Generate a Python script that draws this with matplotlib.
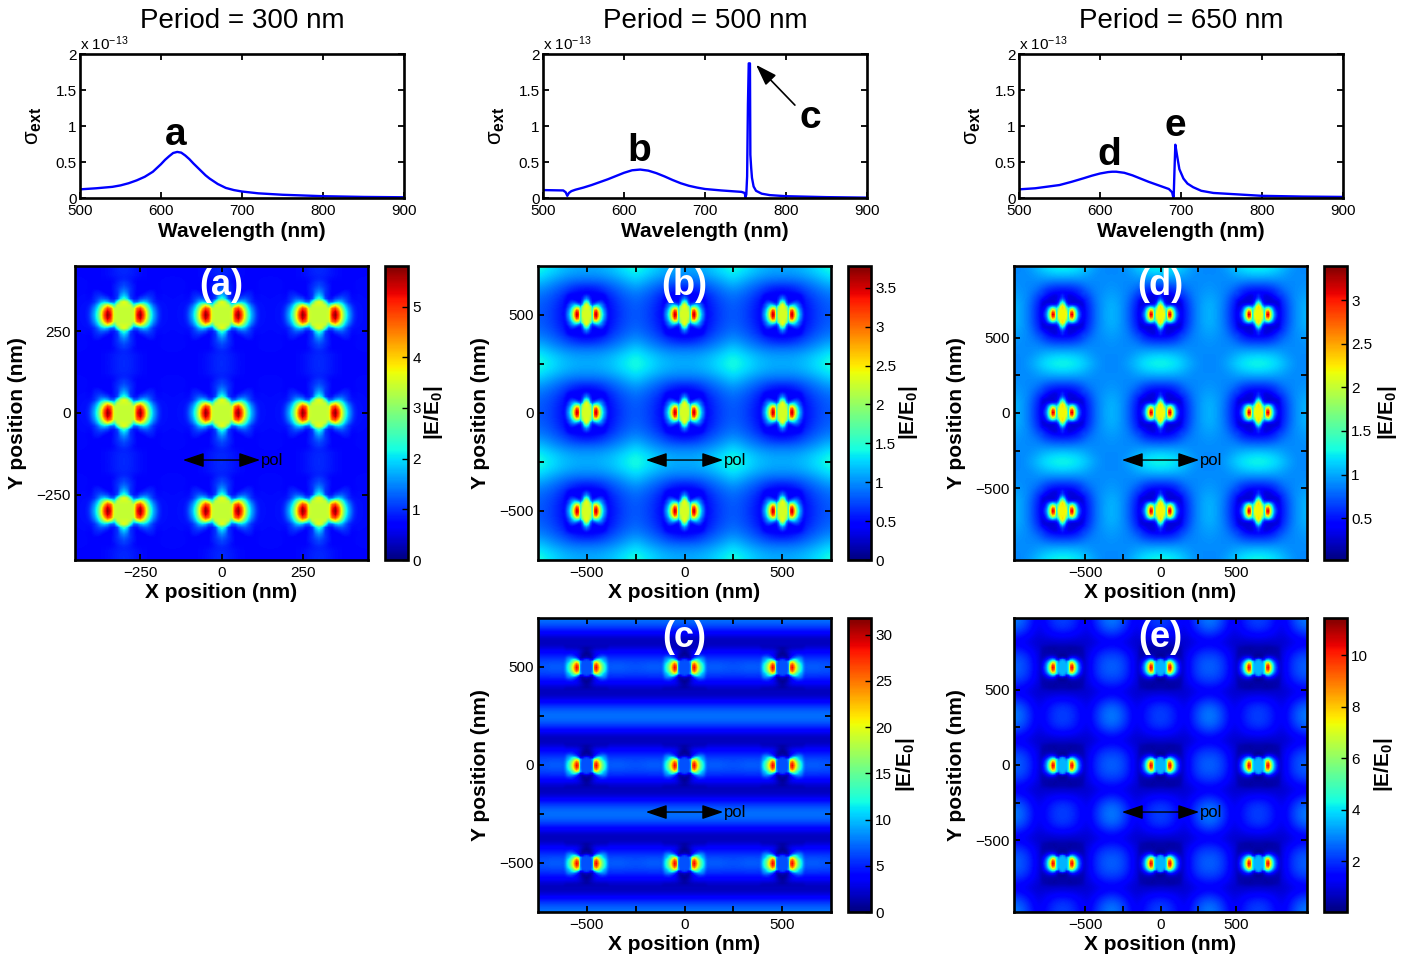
import numpy as np
import matplotlib
matplotlib.use('Agg')
import matplotlib.pyplot as plt

plt.rcParams['font.family'] = ['Liberation Sans', 'DejaVu Sans']
plt.rcParams['mathtext.fontset'] = 'custom'
plt.rcParams['mathtext.rm'] = 'Liberation Sans'
plt.rcParams['mathtext.it'] = 'Liberation Sans'
plt.rcParams['mathtext.bf'] = 'Liberation Sans:bold'

# --- SPECTRA (sigma_ext in units of 1e-13) ---
WL_300 = [500, 520, 540, 550, 560, 570, 580, 590, 600, 605, 610, 615, 620, 625, 630, 635, 640, 645, 650, 655, 660,
          670, 680, 690, 700, 720, 750, 800, 850, 900]
EXT_300 = [.12, .135, .155, .175, .205, .245, .295, .365, .47, .53, .58, .625, .64, .63, .59, .54, .48, .425, .37, .315,
           .27, .195, .14, .11, .09, .065, .045, .025, .015, .01]

WL_500 = [500, 525, 528, 530, 532, 535, 540, 550, 560, 570, 580, 590, 600, 610, 620, 630, 640, 650, 660, 670, 680, 690,
          700, 720, 745, 749, 750, 751, 752, 753, 754, 755.5, 756, 757, 758, 760, 763, 770, 780, 800, 850, 900]
EXT_500 = [.11, .105, .08, .03, .07, .095, .115, .145, .18, .22, .26, .305, .35, .385, .395, .38, .345, .3, .25, .205,
           .17, .145, .125, .105, .085, .07, .01, .05, .3, 1.3, 1.87, 1.87, .6, .42, .28, .16, .1, .06, .04, .025, .012, .005]

WL_650 = [500, 520, 550, 565, 580, 590, 600, 610, 615, 620, 630, 640, 650, 660, 670, 685, 689, 690.5, 691, 692, 693,
          695, 698, 703, 708, 715, 725, 740, 770, 800, 850, 900]
EXT_650 = [.12, .135, .18, .225, .275, .31, .34, .36, .365, .365, .35, .315, .27, .225, .185, .125, .08, .01, .03, .4,
           .74, .6, .4, .27, .2, .15, .1, .07, .05, .03, .02, .015]

# --- FIELD MAPS: one quarter of a unit cell, rows go away from the particle row ---
# FAR_* nodes are period/12 apart, NEAR_* are the close-up round a particle
FAR_A = [[.9, .88, .86, .86, .86, .8, .78],
         [.88, .86, .86, .86, .84, .8, .78],
         [.8, .8, .8, .8, .78, .78, .76],
         [.8, .78, .76, .76, .76, .76, .76],
         [.86, .82, .76, .74, .74, .76, .76],
         [.98, .9, .78, .74, .72, .74, .74],
         [.98, .9, .78, .74, .72, .72, .72]]
NEAR_A = [[3.4, 3.4, 3.4, 3.5, 5.2, 5.7, 4.9, 3.6, 2.5, 1.75, 1.3, 1.05, .92],
          [3.4, 3.4, 3.4, 3.5, 5.0, 5.5, 4.7, 3.5, 2.4, 1.7, 1.25, 1.02, .9],
          [3.4, 3.4, 3.4, 3.4, 4.6, 4.9, 4.1, 3.1, 2.15, 1.55, 1.15, .95, .85],
          [3.5, 3.5, 3.4, 2.4, 3.2, 3.7, 3.2, 2.5, 1.8, 1.3, 1.0, .88, .8],
          [3.7, 3.4, 2.4, 1.3, 1.3, 1.7, 1.9, 1.7, 1.3, 1.0, .85, .8, .78],
          [2.4, 2.0, 1.15, .85, .85, 1.1, 1.2, 1.25, 1.1, .95, .8, .76, .76],
          [1.9, 1.6, 1.0, .85, .72, .8, .9, .98, .95, .88, .76, .74, .74],
          [1.55, 1.35, 1.0, .85, .72, .7, .74, .82, .86, .82, .74, .74, .74],
          [1.3, 1.2, 1.0, .85, .75, .68, .66, .7, .74, .74, .72, .74, .76],
          [1.15, 1.05, .95, .85, .75, .7, .66, .64, .66, .68, .72, .74, .76],
          [1.05, 1.0, .9, .8, .74, .7, .68, .66, .66, .68, .72, .74, .76],
          [1.0, .95, .88, .8, .74, .72, .7, .68, .68, .7, .72, .74, .76],
          [.98, .92, .84, .78, .74, .72, .72, .7, .7, .72, .74, .74, .76]]

FAR_B = [[.42, .42, .42, .52, .66, .76, .8],
         [.42, .42, .42, .54, .68, .77, .82],
         [.42, .42, .47, .6, .74, .82, .88],
         [.48, .52, .62, .76, .85, .94, 1.0],
         [.85, .85, .88, .94, 1.02, 1.12, 1.2],
         [1.05, 1.05, 1.08, 1.14, 1.22, 1.3, 1.38],
         [1.12, 1.12, 1.16, 1.2, 1.3, 1.38, 1.45]]
NEAR_B = [[2.3, 2.3, 2.3, 1.5, 3.3, 3.6, 2.9, 2.1, 1.5, 1.1, .85, .66, .56],
          [2.3, 2.3, 2.3, 1.5, 3.2, 3.5, 2.8, 2.05, 1.45, 1.05, .82, .64, .54],
          [2.3, 2.3, 2.2, 1.5, 2.9, 3.2, 2.55, 1.9, 1.35, 1.0, .76, .6, .52],
          [2.35, 2.3, 2.1, 1.5, 2.4, 2.6, 2.15, 1.65, 1.2, .9, .7, .56, .5],
          [2.4, 2.3, 2.0, 1.2, 1.7, 1.8, 1.6, 1.3, 1.0, .78, .6, .5, .46],
          [2.4, 2.1, 1.2, .8, 1.0, 1.15, 1.2, 1.05, .9, .72, .56, .48, .45],
          [1.9, 1.6, .9, .58, .6, .72, .8, .8, .72, .58, .46, .42, .42],
          [1.4, 1.2, .75, .5, .45, .5, .56, .6, .58, .5, .44, .42, .44],
          [1.0, .85, .62, .48, .42, .42, .44, .46, .46, .46, .48, .52, .58],
          [.8, .7, .56, .46, .42, .42, .42, .42, .44, .46, .5, .55, .6],
          [.6, .55, .48, .44, .42, .42, .42, .44, .47, .5, .54, .6, .65],
          [.5, .48, .45, .43, .42, .43, .45, .48, .5, .54, .6, .65, .7],
          [.45, .45, .45, .45, .45, .47, .5, .52, .56, .6, .65, .7, .76]]

FAR_C = [[7, 7, 7, 7.2, 7.4, 7, 6.8],
         [5.8, 5.8, 5.8, 5.8, 5.8, 5.8, 5.8],
         [3.5, 3.5, 3.5, 3.5, 3.5, 3.5, 3.5],
         [1, 1, 1, 1, 1, 1, 1],
         [3, 3, 3, 3, 3, 3, 3],
         [6.3, 6.3, 6.3, 6.3, 6.3, 6.3, 6.3],
         [8, 8, 8, 8, 8, 8, 8]]
NEAR_C = [[6.5, 6.5, 6.5, 7.5, 26, 29, 25, 20, 16, 13, 11, 9.5, 8.5],
          [6.5, 6.5, 6.5, 7.5, 25, 28, 24, 19.5, 15.5, 12.8, 10.8, 9.3, 8.3],
          [6.5, 6.5, 6.5, 8, 22, 25, 22, 17.5, 14.5, 12, 10, 8.8, 8],
          [6.5, 6.5, 6.5, 9, 17, 20, 17.5, 14.5, 12, 10.2, 9, 8, 7.2],
          [6, 5.5, 4, 4, 8, 11, 13, 12, 10.5, 9, 8, 7, 6.5],
          [2, 1.8, 1.5, 1.8, 4, 6, 7, 8, 8, 7.8, 7, 6.2, 5.6],
          [1, .8, 1, 2, 3, 4, 5, 5.5, 6, 5.8, 5.4, 5, 4.6],
          [.6, .8, 1.2, 2, 2.8, 3.4, 4, 4.5, 4.6, 4.5, 4.4, 4.2, 4],
          [.7, 1, 1.5, 2.2, 2.8, 3.2, 3.4, 3.5, 3.5, 3.5, 3.5, 3.5, 3.5],
          [1, 1.2, 1.6, 2, 2.4, 2.6, 2.7, 2.8, 2.8, 2.8, 2.8, 2.8, 2.8],
          [1, 1.1, 1.4, 1.6, 1.8, 2, 2, 2, 2, 2, 2, 2, 2],
          [.9, 1, 1.1, 1.2, 1.3, 1.4, 1.4, 1.4, 1.4, 1.4, 1.4, 1.4, 1.4],
          [.8, .85, .9, .9, .95, 1, 1, 1, 1, 1, 1, 1, 1]]

FAR_D = [[.3, .3, .3, .5, .8, .97, 1.05],
         [.3, .3, .32, .52, .8, .97, 1.05],
         [.32, .32, .42, .6, .85, .95, 1.0],
         [.5, .52, .6, .8, .88, .92, .95],
         [.85, .85, .88, .9, .9, .9, .92],
         [1.15, 1.13, 1.08, 1.0, .92, .9, .9],
         [1.3, 1.28, 1.22, 1.1, .98, .9, .88]]
NEAR_D = [[2.2, 2.2, 2.2, 1.2, 2.9, 3.2, 2.3, 1.5, .95, .65, .48, .4, .38],
          [2.2, 2.2, 2.1, 1.2, 2.7, 3.0, 2.2, 1.45, .9, .62, .46, .38, .38],
          [2.2, 2.2, 2.0, 1.2, 2.3, 2.5, 1.9, 1.3, .8, .55, .42, .36, .36],
          [2.25, 2.2, 1.7, 1.3, 1.6, 1.9, 1.5, 1.05, .7, .48, .38, .34, .36],
          [2.3, 2.1, 1.3, .9, 1.0, 1.1, .95, .75, .55, .4, .34, .32, .36],
          [2.0, 1.6, .9, .6, .55, .55, .52, .45, .38, .32, .3, .32, .36],
          [1.5, 1.2, .65, .4, .32, .3, .3, .3, .3, .3, .32, .36, .4],
          [1.1, .85, .5, .34, .3, .28, .28, .28, .3, .32, .36, .42, .48],
          [.75, .62, .42, .32, .3, .3, .3, .32, .36, .42, .48, .54, .6],
          [.6, .5, .38, .32, .3, .3, .32, .36, .42, .48, .54, .6, .66],
          [.55, .48, .4, .34, .33, .35, .4, .45, .5, .55, .6, .66, .72],
          [.5, .46, .42, .4, .4, .44, .48, .52, .56, .6, .66, .72, .76],
          [.5, .5, .5, .5, .52, .54, .56, .6, .64, .68, .72, .76, .8]]

FAR_E = [[.5, .5, .55, 1.0, 1.9, 2.4, 2.6],
         [.5, .5, .55, 1.0, 1.8, 2.3, 2.4],
         [.5, .5, .6, .95, 1.4, 1.8, 1.9],
         [.75, .75, .75, .8, .95, 1.15, 1.25],
         [1.5, 1.4, 1.2, .95, 1.35, 1.75, 1.95],
         [2.1, 1.95, 1.5, 1.1, 1.75, 2.4, 2.7],
         [2.2, 2.05, 1.6, 1.15, 1.9, 2.6, 2.9]]
NEAR_E = [[3.5, 3.5, 3.5, 4, 9.5, 10.5, 8, 5.3, 3.4, 2.3, 1.6, 1.1, .9],
          [3.5, 3.5, 3.5, 4, 9, 10, 7.6, 5.1, 3.3, 2.2, 1.5, 1.1, .9],
          [3.5, 3.5, 3.4, 4.2, 7.8, 8.6, 6.6, 4.5, 3, 2, 1.4, 1, .85],
          [3.5, 3.4, 3, 4.2, 5.8, 6.2, 4.9, 3.5, 2.4, 1.7, 1.2, .9, .8],
          [3.2, 2.8, 1.6, 1.8, 3.2, 3.6, 3, 2.3, 1.7, 1.2, .9, .75, .72],
          [.9, .7, .6, 1, 1.5, 1.8, 1.7, 1.4, 1.1, .85, .7, .65, .65],
          [.3, .3, .4, .6, .8, .9, .9, .8, .7, .6, .58, .6, .62],
          [.35, .35, .4, .45, .5, .55, .55, .55, .52, .52, .55, .58, .62],
          [.4, .4, .42, .42, .42, .45, .45, .45, .48, .5, .52, .58, .65],
          [.45, .45, .45, .42, .42, .42, .45, .45, .48, .5, .55, .6, .68],
          [.5, .5, .48, .45, .42, .42, .45, .45, .5, .52, .58, .62, .7],
          [.55, .55, .52, .48, .45, .45, .45, .48, .52, .55, .6, .66, .72],
          [.62, .6, .58, .55, .52, .52, .54, .56, .58, .6, .64, .7, .78]]

# --- LAYOUT (pixels of the 1414x956 figure) ---
W, H = 1414, 956
SPEC_LEFT = [80, 543, 1019]
MAP_LEFT = [75, 538, 1014]
SPEC_TITLES = ['Period = 300 nm', 'Period = 500 nm', 'Period = 650 nm']
MAP_TICKS = {300: ([-250, 0, 250], ['\u2212250', '0', '250']),
             500: ([-500, -250, 0, 250, 500], ['\u2212500', '', '0', '', '500']),
             650: ([-500, -250, 0, 250, 500], ['\u2212500', '', '0', '', '500'])}
SPINE = 1.9


def add_axes_px(left, top, width, height):
    return fig.add_axes([left / W, 1 - (top + height) / H, width / W, height / H])


def mirror(quarter):
    q = np.array(quarter, dtype=float)
    q = np.vstack([q[:0:-1], q])
    return np.hstack([q[:, :0:-1], q])


def style_box(ax):
    for s in ax.spines.values():
        s.set_linewidth(SPINE)
    ax.tick_params(direction='in', top=True, right=True, length=4, width=1.3, labelsize=11)


def draw_map(left, top, period, far, near, near_step, vmax, vmin, cticks, letter, clabel_x):
    ax = add_axes_px(left, top, 293, 294)
    lim = 1.5 * period

    # far field, three unit cells each way
    cell = mirror(far)
    n = cell.shape[0] - 1
    grid = np.tile(cell[:-1, :-1], (3, 3))
    grid = np.vstack([grid, grid[:1]])
    grid = np.hstack([grid, grid[:, :1]])
    step = period / n
    pad = lim + step / 2
    im = ax.imshow(grid, extent=[-pad, pad, -pad, pad], origin='lower', cmap='jet', vmin=vmin, vmax=vmax,
                   aspect='auto', interpolation='bicubic', interpolation_stage='data', zorder=1)

    # close-up round every particle, faded into the far field at its border
    patch = mirror(near)
    m = near_step * (len(near) - 1 + 0.5)
    idx = np.abs(np.arange(patch.shape[0]) - (patch.shape[0] - 1) / 2)
    fade = np.clip((idx.max() - np.maximum.outer(idx, idx)) / 2.0, 0, 1)
    for cy in (-period, 0, period):
        for cx in (-period, 0, period):
            ax.imshow(patch, extent=[cx - m, cx + m, cy - m, cy + m], origin='lower', cmap='jet', vmin=vmin,
                      vmax=vmax, alpha=fade, aspect='auto', interpolation='bilinear',
                      interpolation_stage='data', zorder=2)

    ax.set_xlim(-lim, lim)
    ax.set_ylim(-lim, lim)
    ticks, labels = MAP_TICKS[period]
    ax.set_xticks(ticks)
    ax.set_xticklabels(labels)
    ax.set_yticks(ticks)
    ax.set_yticklabels(labels)
    style_box(ax)
    ax.tick_params(axis='x', pad=4.5)
    ax.tick_params(axis='y', pad=3)
    ax.set_xlabel('X position (nm)', fontsize=15, fontweight='bold', va='center')
    ax.set_ylabel('Y position (nm)', fontsize=15, fontweight='bold', va='center')
    ax.xaxis.set_label_coords(0.5, -0.11)
    ax.yaxis.set_label_coords(-0.195, 0.5)

    ax.text(0.5, 0.935, letter, transform=ax.transAxes, color='white', fontsize=26, fontweight='bold',
            ha='center', va='center', zorder=5)
    ax.annotate('', xy=(0.368, 0.34), xytext=(0.632, 0.34), xycoords='axes fraction', zorder=5,
                arrowprops=dict(arrowstyle='<|-|>,head_length=0.65,head_width=0.22', color='black', lw=1.0,
                                mutation_scale=20, shrinkA=0, shrinkB=0))
    ax.text(0.636, 0.34, 'pol', transform=ax.transAxes, fontsize=12, ha='left', va='center', zorder=5)

    cax = add_axes_px(left + 310, top, 23, 294)
    cb = fig.colorbar(im, cax=cax)
    cb.set_ticks(cticks)
    cb.set_ticklabels([f'{t:g}' for t in cticks])
    cb.outline.set_linewidth(SPINE)
    cax.tick_params(direction='in', length=4, width=1.0, labelsize=11, pad=3, left=False, right=True)
    cax.text(clabel_x, 0.5, r'|E/E$_{\mathbf{0}}$|', transform=cax.transAxes, rotation=90, fontsize=15,
             fontweight='bold', ha='center', va='center')


# --- PLOT SETUP ---
fig = plt.figure(figsize=(W / 100, H / 100), dpi=100)

spectra = [(WL_300, EXT_300), (WL_500, EXT_500), (WL_650, EXT_650)]
for left, title, (wl, ext) in zip(SPEC_LEFT, SPEC_TITLES, spectra):
    ax = add_axes_px(left, 54, 324, 144)
    ax.plot(wl, ext, color='#0000ff', linewidth=1.7)
    ax.set_xlim(500, 900)
    ax.set_ylim(0, 2)
    ax.set_xticks([500, 600, 700, 800, 900])
    ax.set_yticks([0, 0.5, 1, 1.5, 2])
    ax.set_yticklabels(['0', '0.5', '1', '1.5', '2'])
    style_box(ax)
    ax.tick_params(axis='x', pad=4.5)
    ax.tick_params(axis='y', pad=2.5)
    ax.set_title(title, fontsize=20, pad=18.5)
    ax.set_xlabel('Wavelength (nm)', fontsize=15, fontweight='bold', va='center')
    ax.set_ylabel(r'$\sigma_{\mathbf{ext}}$', fontsize=16, va='center')
    ax.xaxis.set_label_coords(0.5, -0.23)
    ax.yaxis.set_label_coords(-0.145, 0.5)
    ax.text(0, 1.005, r'x 10$^{-13}$', transform=ax.transAxes, fontsize=11, ha='left', va='bottom')

    if left == SPEC_LEFT[0]:
        ax.text(618.5, 0.74, 'a', fontsize=28, fontweight='bold', ha='center', va='baseline')
    elif left == SPEC_LEFT[1]:
        ax.text(618.5, 0.51, 'b', fontsize=28, fontweight='bold', ha='center', va='baseline')
        ax.text(829.5, 0.97, 'c', fontsize=28, fontweight='bold', ha='center', va='baseline')
        ax.annotate('', xy=(763, 1.85), xytext=(811, 1.29),
                    arrowprops=dict(arrowstyle='-|>,head_length=0.65,head_width=0.22', color='black', lw=1.2,
                                    mutation_scale=20, shrinkA=0, shrinkB=0))
    else:
        ax.text(612, 0.46, 'd', fontsize=28, fontweight='bold', ha='center', va='baseline')
        ax.text(692.5, 0.86, 'e', fontsize=28, fontweight='bold', ha='center', va='baseline')

draw_map(MAP_LEFT[0], 266, 300, FAR_A, NEAR_A, 10, 5.8, 0, [0, 1, 2, 3, 4, 5], '(a)', 2.13)
draw_map(MAP_LEFT[1], 266, 500, FAR_B, NEAR_B, 10, 3.78, 0, [0, .5, 1, 1.5, 2, 2.5, 3, 3.5], '(b)', 2.65)
draw_map(MAP_LEFT[1], 618, 500, FAR_C, NEAR_C, 10, 31.8, 0, [0, 5, 10, 15, 20, 25, 30], '(c)', 2.52)
draw_map(MAP_LEFT[2], 266, 650, FAR_D, NEAR_D, 13, 3.39, 0.02, [.5, 1, 1.5, 2, 2.5, 3], '(d)', 2.74)
draw_map(MAP_LEFT[2], 618, 650, FAR_E, NEAR_E, 13, 11.45, 0.02, [2, 4, 6, 8, 10], '(e)', 2.57)

fig.savefig('out.png', dpi=100)
